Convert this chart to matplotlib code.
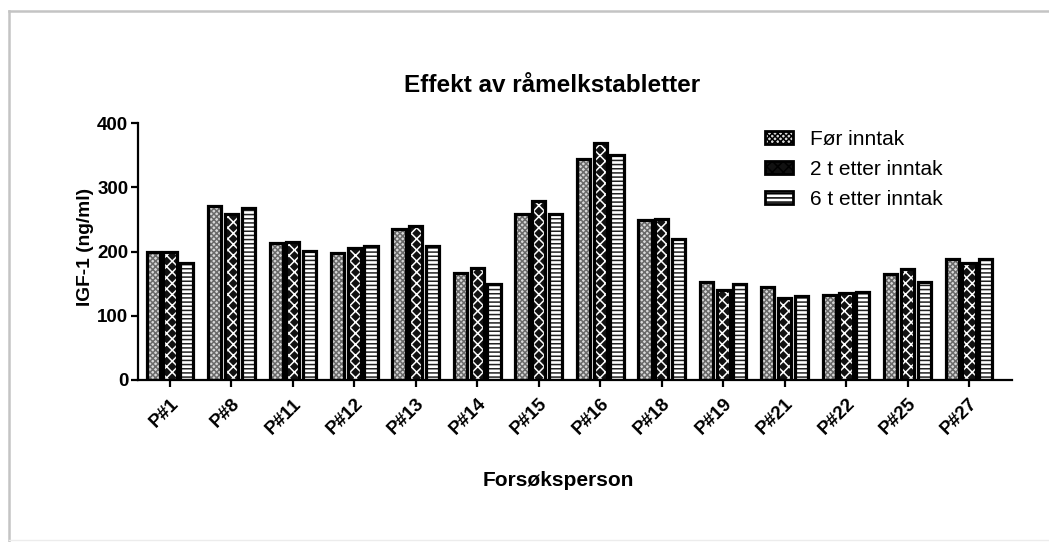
import matplotlib
matplotlib.use("Agg")
import matplotlib.pyplot as plt
from matplotlib.lines import Line2D
from matplotlib.patches import Patch
import numpy as np

plt.rcParams["font.family"] = ["Liberation Sans", "DejaVu Sans"]

subjects = ["P#1", "P#8", "P#11", "P#12", "P#13", "P#14", "P#15",
            "P#16", "P#18", "P#19", "P#21", "P#22", "P#25", "P#27"]
for_inntak = [200, 271, 214, 197, 235, 166, 259, 344, 249, 152, 145, 133, 165, 188]
etter_2t = [200, 259, 215, 206, 239, 175, 279, 369, 251, 140, 128, 136, 172, 182]
etter_6t = [182, 267, 201, 208, 209, 149, 259, 350, 219, 150, 131, 137, 153, 188]
series_labels = ["Før inntak", "2 t etter inntak", "6 t etter inntak"]
y_ticks = [0, 100, 200, 300, 400]

W, H = 1049, 542
fig = plt.figure(figsize=(W / 100, H / 100), dpi=100)
ax = fig.add_axes([138 / W, 1 - 380 / H, (1012 - 138) / W, (380 - 123) / H])

x = np.arange(len(subjects))
width = 0.215
offset = 0.272

# fill style per series: (facecolor, hatch, hatch colour)
styles = [
    ("#d9d9d9", "xxxxxx", "#6a6a6a"),
    ("#111111", "xxx", "#ffffff"),
    ("#ffffff", "----", "#222222"),
]

plt.rcParams["hatch.linewidth"] = 1.1
series = [for_inntak, etter_2t, etter_6t]
for i, (vals, (fc, hatch, hc)) in enumerate(zip(series, styles)):
    pos = x + (i - 1) * offset
    ax.bar(pos, vals, width, facecolor=fc, edgecolor=hc, hatch=hatch,
           linewidth=0, zorder=2)
    ax.bar(pos, vals, width, facecolor="none", edgecolor="black",
           linewidth=2.3, zorder=3)

ax.set_xlim(-0.52, 13.70)
ax.set_ylim(0, 400)
ax.set_yticks(y_ticks)
ax.set_xticks(x)
ax.set_xticklabels(subjects, rotation=45, ha="right", rotation_mode="anchor",
                   fontsize=13.5, fontweight="bold")
for lbl in ax.get_yticklabels():
    lbl.set_fontsize(13.5)
    lbl.set_fontweight("bold")

for side in ("top", "right"):
    ax.spines[side].set_visible(False)
for side in ("left", "bottom"):
    ax.spines[side].set_linewidth(1.6)
ax.tick_params(axis="both", direction="out", width=1.6, length=5)
ax.tick_params(axis="x", pad=6)
ax.tick_params(axis="y", pad=2)

fig.text(552 / W, 1 - 85 / H, "Effekt av råmelkstabletter", fontsize=17.5,
         fontweight="bold", ha="center", va="center")
fig.text(558 / W, 1 - 481 / H, "Forsøksperson", fontsize=15,
         fontweight="bold", ha="center", va="center")
fig.text(86 / W, 1 - 247 / H, "IGF-1 (ng/ml)", fontsize=13.8,
         fontweight="bold", ha="center", va="center", rotation=90)

handles = []
for fc, hatch, hc in styles:
    handles.append(Patch(facecolor=fc, edgecolor="black", hatch=hatch,
                         linewidth=2.0))
leg = ax.legend(handles, series_labels, loc="upper left",
                bbox_to_anchor=(0.708, 1.005), borderaxespad=0,
                frameon=False, fontsize=15,
                handlelength=1.35, handleheight=0.6, labelspacing=0.52,
                handletextpad=0.8)

# light grey frame along the top and left edges
fig.add_artist(Line2D([9 / W, 9 / W], [0, 1 - 11 / H], color="#c4c4c4",
                      linewidth=1.8, transform=fig.transFigure))
fig.add_artist(Line2D([9 / W, 1], [1 - 11 / H, 1 - 11 / H], color="#c4c4c4",
                      linewidth=1.8, transform=fig.transFigure))
fig.add_artist(Line2D([9 / W, 1], [2 / H, 2 / H], color="#ececec",
                      linewidth=1.0, transform=fig.transFigure))

fig.savefig("out.png", dpi=100)
